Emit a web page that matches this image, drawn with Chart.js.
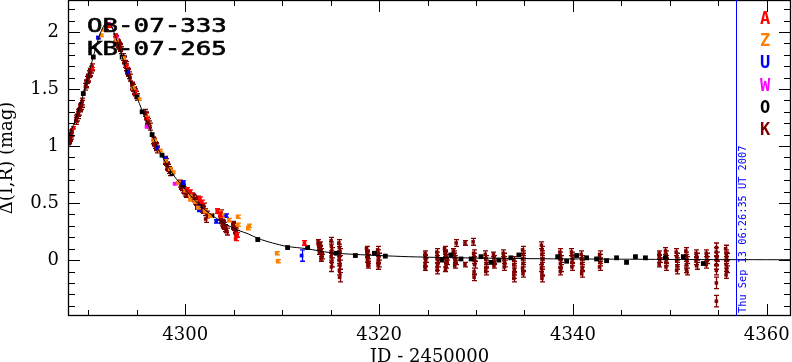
<!DOCTYPE html>
<html>
<head>
<meta charset="utf-8">
<script src="https://cdn.jsdelivr.net/npm/chart.js@4.4.1/dist/chart.umd.min.js"></script>
<style>
  html, body { margin: 0; padding: 0; background: #fff; }
  #wrap { width: 792px; height: 362px; }
</style>
</head>
<body>
<div id="wrap"><canvas id="lc" width="792" height="362"></canvas></div>
<script>
// event names and observatory codes
const titleLines = ['OB-07-333', 'KB-07-265'];
const siteNames = ['A', 'Z', 'U', 'W', 'O', 'K'];
const siteColors = ['#ff0000', '#ff8000', '#0000ff', '#ff00ff', '#000000', '#800000'];
const dateLabel = 'Thu Sep 13 06:26:35 UT 2007';
const dateJd = 4356.84;

// axis ticks
const xTicks = [4300, 4320, 4340, 4360];
const yTicks = [0, 0.5, 1, 1.5, 2];

// model curve
const modelJd = [4287.9, 4288.45, 4289.0, 4289.5, 4290.0, 4290.5, 4291.0, 4291.5, 4291.9, 4292.3, 4292.8, 4293.5,
  4294.0, 4294.5, 4295.0, 4295.5, 4296.0, 4296.6, 4297.0, 4297.5, 4298.0, 4298.6, 4299.0, 4299.8, 4300.5, 4301.5,
  4302.5, 4303.5, 4304.5, 4305.5, 4306.5, 4307.5, 4309.0, 4310.5, 4312.5, 4315.0, 4317.5, 4320.0, 4323.0, 4327.0,
  4332.0, 4338.0, 4345.0, 4352.0, 4362.5];
const modelMag = [1.08, 1.18, 1.32, 1.46, 1.62, 1.78, 1.93, 2.04, 2.08, 2.06, 1.96, 1.78,
  1.64, 1.52, 1.43, 1.32, 1.22, 1.10, 1.01, 0.93, 0.85, 0.77, 0.72, 0.64, 0.57, 0.48,
  0.41, 0.35, 0.30, 0.26, 0.23, 0.19, 0.15, 0.12, 0.10, 0.065, 0.05, 0.04, 0.03, 0.022,
  0.016, 0.011, 0.008, 0.005, 0.003];

// [JD-2450000, delta mag, error]
const siteA = [[4288.45,1.16,.01],[4290.4,1.68,.01],[4292.1,2.05,.01],[4292.8,1.97,.01],[4293.9,1.70,.01],
  [4294.8,1.47,.01],[4296.0,1.24,.01],[4300.2,0.62,.015],[4300.5,0.60,.015],[4301.5,0.54,.015],[4301.7,0.51,.015],
  [4303.3,0.43,.02],[4303.6,0.40,.02],[4305.3,0.22,.02],[4305.2,0.19,.02],[4312.3,0.15,.02]];

const siteZ = [[4291.3,1.97,.01],[4291.6,2.02,.01],[4292.2,2.06,.01],[4292.9,1.93,.01],[4293.6,1.77,.01],
  [4294.6,1.51,.01],[4295.2,1.41,.01],[4296.0,1.25,.01],[4296.8,1.05,.01],[4297.4,0.96,.01],[4297.9,0.87,.01],
  [4298.4,0.80,.01],[4298.75,0.77,.01],[4299.3,0.68,.01],[4300.0,0.61,.01],[4300.5,0.57,.01],[4300.5,0.53,.01],
  [4301.0,0.51,.01],[4301.3,0.46,.01],[4302.0,0.43,.015],[4302.55,0.39,.015],[4303.5,0.42,.015],[4303.8,0.39,.015],
  [4304.5,0.35,.015],[4305.4,0.31,.015],[4305.4,0.38,.015],[4306.45,0.28,.015],[4306.6,0.30,.015],
  [4309.43,0.06,.015],[4309.53,-0.01,.015]];

const siteU = [[4291.0,1.95,.01],[4292.2,2.05,.01],[4294.0,1.65,.01],[4297.1,0.98,.01],[4297.9,0.89,.01],
  [4299.8,0.68,.015],[4301.2,0.46,.015],[4301.4,0.44,.015],[4303.2,0.34,.015],[4304.2,0.39,.015],[4312.0,0.04,.05]];

const siteW = [[4292.0,2.07,.01],[4292.9,1.95,.01],[4296.0,1.17,.01],[4297.1,0.98,.01],[4298.9,0.67,.01]];

const siteO = [[4289.48,1.46,0],[4290.51,1.78,0],[4293.49,1.78,0],[4295.03,1.43,0],[4295.55,1.30,0],
  [4296.58,1.10,0],[4297.6,0.92,0],[4298.63,0.76,0],[4299.76,0.66,0],[4301.51,0.47,0],[4302.75,0.39,0],
  [4307.48,0.18,0],[4310.56,0.11,0],[4312.62,0.11,0],[4315.6,0.06,0],[4317.55,0.04,0],[4319.51,0.06,0],
  [4320.64,0.035,0],[4326.5,0.0,0],[4327.4,0.045,0],[4328.45,0.01,0],[4329.5,0.01,0],[4330.51,0.03,0],
  [4331.54,-0.02,0],[4332.36,0.0,0],[4333.59,0.02,0],[4334.42,0.045,0],[4338.43,0.03,0],[4339.35,-0.01,0],
  [4340.38,0.04,0],[4341.41,0.02,0],[4342.44,0.01,0],[4343.47,-0.005,0],[4344.5,0.02,0],[4345.53,-0.02,0],
  [4346.45,0.03,0],[4347.48,0.02,0],[4349.54,0.02,0],[4351.39,0.03,0],[4353.45,-0.03,0]];

const siteK = [
  [4287.95,1.04,.03],[4288.0,1.06,.03],[4288.05,1.05,.03],[4288.1,1.08,.03],[4288.15,1.07,.03],[4288.2,1.09,.03],[4288.25,1.11,.03],[4288.3,1.12,.03],
  [4288.7,1.22,.03],[4288.75,1.24,.03],[4288.8,1.25,.03],[4288.9,1.27,.03],[4288.95,1.29,.03],[4289.0,1.30,.03],[4289.1,1.33,.03],[4289.15,1.34,.03],[4289.2,1.35,.03],[4289.3,1.37,.03],[4289.35,1.39,.03],
  [4289.7,1.52,.03],[4289.75,1.54,.03],[4289.8,1.55,.03],[4289.9,1.58,.03],[4289.95,1.59,.03],[4290.0,1.60,.03],[4290.1,1.63,.03],[4290.15,1.64,.03],[4290.2,1.65,.03],[4290.3,1.67,.03],[4290.4,1.69,.03],
  [4291.8,2.04,.02],[4292.0,2.06,.02],
  [4292.8,1.95,.03],[4292.85,1.94,.03],[4292.9,1.93,.03],[4293.0,1.91,.03],[4293.05,1.90,.03],[4293.1,1.89,.03],[4293.2,1.88,.03],[4293.25,1.87,.03],[4293.3,1.86,.03],[4293.4,1.84,.03],
  [4293.6,1.78,.03],[4293.65,1.76,.03],[4293.7,1.75,.03],[4293.8,1.72,.03],[4293.85,1.71,.03],[4293.9,1.69,.03],[4294.0,1.66,.03],[4294.05,1.65,.03],[4294.1,1.64,.03],[4294.2,1.62,.03],[4294.3,1.60,.03],
  [4294.5,1.53,.03],[4294.55,1.52,.03],[4294.6,1.51,.03],[4294.7,1.49,.03],[4294.75,1.48,.03],[4294.8,1.47,.03],[4294.9,1.45,.03],[4295.0,1.43,.03],
  [4295.85,1.29,.03],[4295.9,1.27,.03],[4295.95,1.26,.03],[4296.05,1.23,.03],[4296.1,1.22,.03],[4296.15,1.21,.03],[4296.25,1.19,.03],[4296.35,1.17,.03],
  [4296.7,1.05,.03],[4296.75,1.04,.03],[4296.8,1.03,.03],[4296.9,1.01,.03],[4296.95,1.00,.03],[4297.0,0.99,.03],[4297.1,0.97,.03],
  [4297.9,0.88,.03],[4297.95,0.87,.03],[4298.0,0.86,.03],[4298.1,0.83,.03],[4298.15,0.82,.03],[4298.2,0.81,.03],[4298.3,0.79,.03],[4298.4,0.77,.03],
  [4299.5,0.67,.03],[4299.55,0.66,.03],[4299.6,0.65,.03],[4299.7,0.64,.03],[4299.8,0.62,.03],[4299.85,0.61,.03],[4299.9,0.61,.03],[4300.0,0.59,.03],[4300.1,0.58,.03],
  [4300.7,0.56,.03],[4300.8,0.55,.03],[4300.9,0.54,.03],[4301.0,0.52,.03],[4301.1,0.51,.03],[4301.2,0.50,.03],[4301.3,0.53,.03],[4301.4,0.48,.03],[4301.5,0.47,.03],[4301.6,0.46,.03],
  [4301.7,0.45,.03],[4301.8,0.44,.03],[4301.9,0.47,.03],[4302.0,0.42,.03],[4302.1,0.36,.03],[4302.2,0.40,.03],
  [4303.6,0.38,.03],[4303.65,0.36,.03],[4303.7,0.35,.03],[4303.7,0.41,.03],[4303.8,0.33,.03],[4303.85,0.32,.03],[4303.9,0.31,.03],[4304.0,0.30,.03],[4304.1,0.28,.03],[4304.2,0.27,.03],[4304.3,0.25,.03],
  [4304.9,0.31,.03],[4304.95,0.30,.03],[4305.0,0.29,.03],[4305.1,0.27,.03],[4305.15,0.26,.03],[4305.2,0.25,.03],[4305.3,0.23,.03],
  [4313.7,0.16,.02],[4313.75,0.13,.02],[4313.8,0.10,.02],[4313.85,0.07,.02],[4313.9,0.14,.02],[4313.95,0.11,.02],[4314.0,0.08,.02],[4314.05,0.05,.02],[4314.1,0.03,.02],[4314.0,0.01,.02],
  [4315.05,0.17,.03],[4315.08,0.12,.04],[4315.1,0.08,.03],[4315.05,0.03,.03],[4315.1,-0.02,.04],[4315.08,-0.06,.04],
  [4315.85,0.15,.03],[4315.9,0.11,.03],[4315.95,0.07,.03],[4315.9,0.03,.03],[4315.88,0.0,.03],[4315.95,-0.04,.04],[4315.9,-0.09,.04],[4315.92,-0.15,.04],
  [4318.7,0.10,.02],[4318.75,0.07,.02],[4318.8,0.05,.02],[4318.85,0.03,.02],[4318.8,0.0,.02],[4318.9,-0.03,.02],[4318.85,-0.05,.02],
  [4319.85,0.09,.03],[4319.9,0.06,.03],[4319.95,0.03,.03],[4319.9,0.0,.03],[4319.95,-0.03,.03],[4319.9,-0.05,.03],
  [4324.75,0.06,.02],[4324.75,0.03,.02],[4324.8,0.0,.02],[4324.75,-0.04,.02],[4324.75,-0.07,.02],
  [4325.95,0.07,.03],[4326.0,0.04,.03],[4326.0,0.01,.03],[4326.05,-0.03,.03],[4326.0,-0.06,.03],[4326.0,-0.09,.03],
  [4326.75,0.10,.02],[4326.8,0.07,.02],[4326.85,0.05,.02],[4326.9,0.03,.02],[4326.95,0.0,.02],[4327.0,-0.02,.02],[4326.9,-0.05,.02],[4326.85,-0.08,.02],
  [4327.65,0.08,.02],[4327.7,0.06,.02],[4327.75,0.04,.02],[4327.8,0.02,.02],[4327.85,0.0,.02],[4327.9,-0.02,.02],[4327.8,-0.05,.02],
  [4327.95,0.15,.03],[4328.86,0.15,.02],[4328.86,-0.04,.02],[4329.7,0.16,.03],
  [4329.75,0.06,.03],[4329.8,0.03,.03],[4329.8,0.0,.03],[4329.85,-0.04,.03],[4329.8,-0.10,.03],[4329.8,-0.15,.03],
  [4330.95,0.05,.03],[4331.0,0.01,.03],[4331.05,-0.03,.03],[4331.0,-0.07,.03],[4331.0,-0.10,.03],
  [4331.8,0.05,.02],[4331.85,0.02,.02],[4331.9,-0.02,.02],[4331.85,-0.05,.02],
  [4332.8,0.06,.03],[4332.85,0.03,.03],[4332.9,0.0,.03],[4332.95,-0.03,.03],[4332.9,-0.06,.03],
  [4333.9,0.0,.03],[4333.9,-0.04,.03],[4333.95,-0.08,.03],[4333.9,-0.13,.03],[4333.9,-0.16,.03],
  [4334.8,0.09,.03],[4334.85,0.05,.03],[4334.8,0.01,.03],[4334.85,-0.03,.03],[4334.8,-0.07,.03],[4334.85,-0.12,.03],
  [4336.75,0.13,.03],[4336.8,0.09,.03],[4336.8,0.05,.03],[4336.85,0.01,.03],[4336.8,-0.03,.03],[4336.75,-0.07,.03],[4336.8,-0.11,.03],[4336.8,-0.16,.03],
  [4338.65,0.07,.03],[4338.7,0.04,.03],[4338.75,0.01,.03],[4338.7,-0.03,.03],[4338.75,-0.07,.03],[4338.7,-0.10,.03],
  [4339.85,0.07,.03],[4339.9,0.04,.03],[4339.95,0.01,.03],[4339.9,-0.02,.03],[4339.9,-0.06,.03],
  [4340.85,0.05,.03],[4340.9,0.01,.03],[4340.9,-0.03,.03],[4340.95,-0.07,.03],[4340.9,-0.12,.03],
  [4342.75,0.05,.03],[4342.75,0.02,.03],[4342.8,-0.02,.03],[4342.75,-0.06,.03],
  [4348.9,0.06,.02],[4348.9,0.03,.02],[4348.95,0.0,.02],[4348.9,-0.04,.02],
  [4349.55,0.08,.03],[4349.6,0.05,.03],[4349.65,0.01,.03],[4349.6,-0.02,.03],[4349.6,-0.06,.03],
  [4350.65,0.07,.03],[4350.7,0.03,.03],[4350.7,-0.01,.03],[4350.75,-0.05,.03],[4350.7,-0.09,.03],
  [4351.65,0.08,.03],[4351.7,0.04,.03],[4351.75,0.0,.03],[4351.7,-0.04,.03],[4351.7,-0.08,.03],[4351.75,-0.10,.03],
  [4352.7,0.06,.03],[4352.75,0.03,.03],[4352.7,-0.01,.03],[4352.75,-0.05,.03],
  [4353.75,0.06,.03],[4353.8,0.03,.03],[4353.8,0.0,.03],[4353.75,-0.04,.03],
  [4354.8,0.11,.04],[4354.8,0.07,.04],[4354.85,0.03,.04],[4354.8,0.0,.04],[4354.8,-0.04,.04],[4354.8,-0.09,.04],[4354.8,-0.20,.05],[4354.8,-0.36,.05],
  [4355.75,0.10,.03],[4355.8,0.06,.03],[4355.85,0.03,.03],[4355.8,0.0,.03],[4355.8,-0.04,.03],[4355.85,-0.08,.03],[4355.8,-0.13,.03]
];

const siteData = [siteA, siteZ, siteU, siteW, siteO, siteK];
const siteSize = [2.6, 2.6, 2.6, 2.6, 3.4, 2.5];

// datasets
const datasets = [{
    type: 'line',
    label: 'model',
    data: modelJd.map((x, i) => ({x: x, y: modelMag[i]})),
    borderColor: '#000',
    borderWidth: 1,
    pointRadius: 0,
    tension: 0.3,
    order: 0
}];
siteNames.forEach((name, i) => {
    datasets.push({
        type: 'scatter',
        label: name,
        data: siteData[i].map(p => ({x: p[0], y: p[1], e: p[2]})),
        backgroundColor: siteColors[i],
        borderColor: siteColors[i],
        borderWidth: 0,
        pointStyle: 'rect',
        pointRadius: siteSize[i],
        order: i + 1
    });
});

// error bars, drawn just before each dataset's points
const errorBars = {
    id: 'errorBars',
    beforeDatasetDraw(chart, args) {
        const ds = chart.data.datasets[args.index];
        if (ds.type !== 'scatter') return;
        const ctx = chart.ctx, xs = chart.scales.x, ys = chart.scales.y, a = chart.chartArea;
        ctx.save();
        ctx.beginPath();
        ctx.rect(a.left, a.top, a.right - a.left, a.bottom - a.top);
        ctx.clip();
        ctx.strokeStyle = ds.borderColor;
        ctx.lineWidth = 1.3;
        ctx.beginPath();
        ds.data.forEach(p => {
            if (!p.e) return;
            const px = Math.round(xs.getPixelForValue(p.x)) + 0.5;
            const y1 = ys.getPixelForValue(p.y + p.e);
            const y2 = ys.getPixelForValue(p.y - p.e);
            ctx.moveTo(px, y1); ctx.lineTo(px, y2);
            ctx.moveTo(px - 2.5, y1); ctx.lineTo(px + 2.5, y1);
            ctx.moveTo(px - 2.5, y2); ctx.lineTo(px + 2.5, y2);
        });
        ctx.stroke();
        ctx.restore();
    }
};

// frame, inward ticks, labels inside the plot
const decorations = {
    id: 'decorations',
    afterDraw(chart) {
        const ctx = chart.ctx, xs = chart.scales.x, ys = chart.scales.y, a = chart.chartArea;
        ctx.save();
        ctx.strokeStyle = '#000';
        ctx.lineWidth = 1.3;
        ctx.strokeRect(a.left + 0.5, a.top + 0.5, a.right - a.left - 1, a.bottom - a.top - 1);
        ctx.lineWidth = 1;
        ctx.beginPath();
        for (let v = 4290; v <= 4362; v += 5) {
            const px = Math.round(xs.getPixelForValue(v)) + 0.5;
            const len = xTicks.includes(v) ? 12 : 6;
            ctx.moveTo(px, a.bottom); ctx.lineTo(px, a.bottom - len);
            ctx.moveTo(px, a.top); ctx.lineTo(px, a.top + len);
        }
        for (let k = -4; k <= 22; k++) {
            const v = k / 10;
            const py = Math.round(ys.getPixelForValue(v)) + 0.5;
            const len = (k % 5 === 0) ? 12 : 7;
            ctx.moveTo(a.left, py); ctx.lineTo(a.left + len, py);
            ctx.moveTo(a.right, py); ctx.lineTo(a.right - len, py);
        }
        ctx.stroke();

        // date marker
        const dx = Math.round(xs.getPixelForValue(dateJd)) + 0.5;
        ctx.strokeStyle = '#0000ff';
        ctx.beginPath();
        ctx.moveTo(dx, a.top); ctx.lineTo(dx, a.bottom);
        ctx.stroke();
        ctx.save();
        ctx.translate(dx + 2, a.bottom - 3);
        ctx.rotate(-Math.PI / 2);
        ctx.fillStyle = '#0000ff';
        ctx.font = '10.3px "DejaVu Sans Mono"';
        ctx.textBaseline = 'top';
        ctx.textAlign = 'left';
        ctx.fillText(dateLabel, 0, 0);
        ctx.restore();

        // event names
        ctx.fillStyle = '#000';
        ctx.font = '20px "DejaVu Sans Mono"';
        ctx.textBaseline = 'alphabetic';
        ctx.textAlign = 'left';
        titleLines.forEach((t, i) => {
            ctx.save();
            ctx.translate(87, 32 + i * 23);
            ctx.scale(1.29, 1);
            ctx.lineWidth = 0.6;
            ctx.strokeStyle = '#000';
            ctx.fillText(t, 0, 0);
            ctx.strokeText(t, 0, 0);
            ctx.restore();
        });

        // site letters
        ctx.font = 'bold 17px "DejaVu Sans Mono"';
        ctx.textAlign = 'center';
        siteNames.forEach((n, i) => {
            ctx.fillStyle = siteColors[i];
            ctx.fillText(n, 765, 24 + i * 22.2);
        });
        ctx.restore();
    }
};

const tickFont = {family: '"DejaVu Serif"', size: 18};

new Chart(document.getElementById('lc'), {
    data: {datasets: datasets},
    options: {
        responsive: false,
        animation: false,
        layout: {autoPadding: false, padding: {top: 0, right: 1, left: 0, bottom: 0}},
        plugins: {legend: {display: false}, tooltip: {enabled: false}},
        scales: {
            x: {
                type: 'linear', min: 4287.9, max: 4362.5,
                afterBuildTicks: s => { s.ticks = xTicks.map(v => ({value: v})); },
                afterFit: s => { s.height = 46; s.paddingLeft = 0; s.paddingRight = 0; },
                grid: {display: false, drawTicks: false},
                border: {display: false},
                ticks: {font: tickFont, color: '#000', padding: 9, maxRotation: 0, callback: v => String(v)},
                title: {display: true, text: 'JD - 2450000', color: '#000',
                    font: {family: '"DejaVu Serif"', size: 18, lineHeight: 0.5}, padding: 0}
            },
            y: {
                type: 'linear', min: -0.49, max: 2.28,
                afterBuildTicks: s => { s.ticks = yTicks.map(v => ({value: v})); },
                afterFit: s => { s.width = 68; s.paddingTop = 0; s.paddingBottom = 0; },
                grid: {display: false, drawTicks: false},
                border: {display: false},
                ticks: {font: tickFont, color: '#000', padding: 9, callback: v => String(v)},
                title: {display: true, text: 'Δ(I,R) (mag)', color: '#000',
                    font: {family: '"DejaVu Serif"', size: 18, lineHeight: 0.8}, padding: 0}
            }
        }
    },
    plugins: [errorBars, decorations]
});
</script>
</body>
</html>
